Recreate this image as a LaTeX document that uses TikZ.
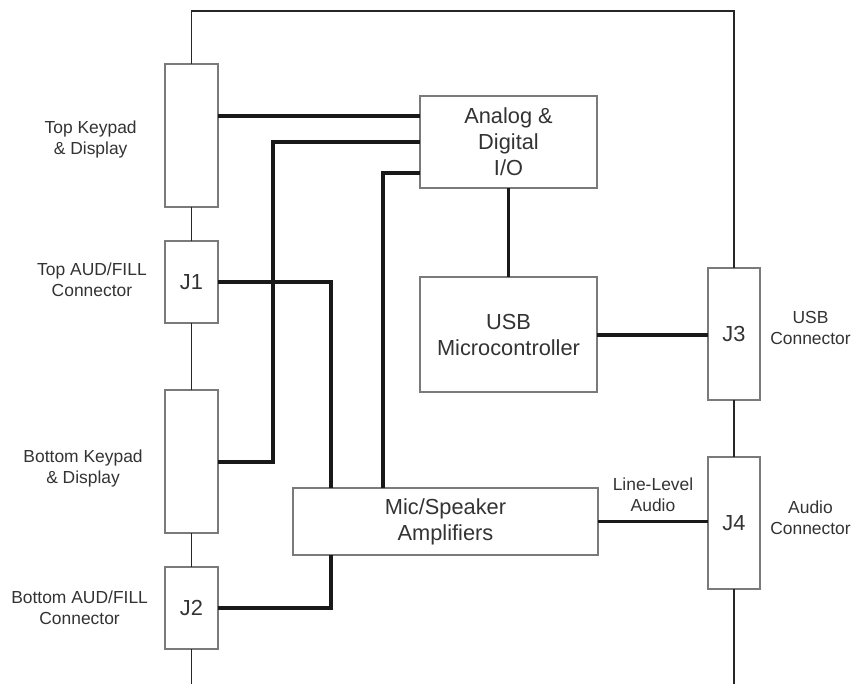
\documentclass[tikz,border=0pt]{standalone}
\usepackage{fontspec}
\setmainfont{Liberation Sans}
\usepackage{xcolor}
\usepackage{tikz}
\usetikzlibrary{positioning, calc}

\definecolor{boxgray}{HTML}{7A7A7A}
\definecolor{textgray}{HTML}{333333}

\begin{document}
\begin{tikzpicture}[x=0.025cm, y=0.025cm,
        block/.style={rectangle, draw=boxgray, line width=1.2pt, fill=white, text centered, align=center, text=textgray, font=\fontsize{15.5}{18.5}\selectfont, inner sep=2pt, outer sep=0pt},
        panel/.style={block, minimum width=1.325cm, minimum height=3.575cm},
        jack/.style={block, minimum width=1.325cm, minimum height=2.05cm},
        port/.style={block, minimum width=1.3cm, minimum height=3.3cm},
        sidetext/.style={align=center, text=textgray, inner sep=0pt, font=\fontsize{12.4}{14.8}\selectfont},
        rail/.style={line width=1.4pt, draw=black!85},
        bus/.style={line width=2.8pt, draw=black!90}
    ]
        \useasboundingbox (0,0) rectangle (855,684);
        \coordinate (topline) at (0,673);
        \coordinate (floor) at (0,0);

        % left column
        \node[panel] (topkp) at (191.5,548.5) {};
        \node[jack, below=0.85cm of topkp] (jone) {J1};
        \node[panel, below=1.675cm of jone] (botkp) {};
        \node[jack, below=0.85cm of botkp] (jtwo) {J2};

        % middle blocks
        \node[block, minimum width=4.425cm, minimum height=2.3cm] (aio) at (508.5,542) {Analog \&\\Digital\\I/O};
        \node[block, minimum width=4.425cm, minimum height=2.875cm, below=2.225cm of aio] (usb) {USB\\Microcontroller};
        \node[block, minimum width=7.625cm, minimum height=1.675cm] (mic) at (445.5,162.5) {Mic/Speaker\\Amplifiers};

        % right column
        \node[port] (jthree) at (734,350) {J3};
        \node[port, below=1.425cm of jthree] (jfour) {J4};

        % side labels
        \node[sidetext, left=0.7cm of topkp, yshift=-0.1cm] (topkptxt) {Top Keypad\\\& Display};
        \node[sidetext, left=0.45cm of jone, yshift=0.06cm] (jonetxt) {Top AUD/FILL\\Connector};
        \node[sidetext, left=0.55cm of botkp, yshift=-0.17cm] (botkptxt) {Bottom Keypad\\\& Display};
        \node[sidetext, left=0.42cm of jtwo] (jtwotxt) {Bottom AUD/FILL\\Connector};
        \node[sidetext, right=0.25cm of jthree, yshift=0.15cm] (jthreetxt) {USB\\Connector};
        \node[sidetext, right=0.25cm of jfour, yshift=0.13cm] (jfourtxt) {Audio\\Connector};

        % frame
        \draw[rail] (topkp.north) -- (topkp.north |- topline) -| (jthree.north);
        \draw[rail] (topkp.south) -- (jone.north);
        \draw[rail] (jone.south) -- (botkp.north);
        \draw[rail] (botkp.south) -- (jtwo.north);
        \draw[rail] (jtwo.south) -- (jtwo.south |- floor);
        \draw[rail] (jthree.south) -- (jfour.north);
        \draw[rail] (jfour.south) -- (jfour.south |- floor);

        % Connectors
        \coordinate (aiotop) at ($(aio.west)+(0,26)$);
        \coordinate (aiolow) at ($(aio.west)+(0,-31)$);
        \draw[bus] (topkp.east |- aiotop) -- (aiotop);
        \draw[bus] (aio.west) -| ($(botkp.east)+(55,0)$) -- (botkp.east);
        \draw[bus] (aiolow) -| ($(mic.north)+(-62.5,0)$);
        \draw[bus] (jone.east) -| ($(mic.north)+(-114.5,0)$);
        \draw[bus] (jtwo.east) -| ($(mic.south)+(-114.5,0)$);
        \draw[bus] (aio.south) -- (usb.north);
        \draw[bus] (usb.east) -- (usb.east -| jthree.west);
        \draw[bus] (mic.east) -- node[sidetext, above=0.2cm] {Line-Level\\Audio} (mic.east -| jfour.west);

    \end{tikzpicture}
\end{document}
